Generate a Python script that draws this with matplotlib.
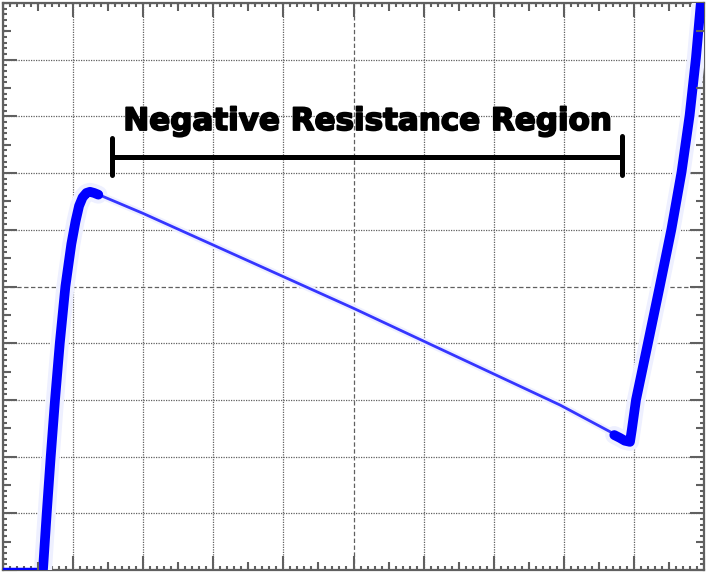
import numpy as np
import matplotlib
matplotlib.use("Agg")
import matplotlib.pyplot as plt
import matplotlib.patheffects as pe

# ---- data (oscilloscope divisions) ----
flat_v = [0.0, 0.56]
flat_i = [0.02, 0.02]

rise_v = [0.57, 0.623, 0.68, 0.742, 0.81, 0.89, 0.975, 1.035, 1.085, 1.135, 1.19, 1.241, 1.30, 1.36]
rise_i = [0.0, 0.99, 1.99, 3.0, 4.0, 5.0, 5.75, 6.15, 6.42, 6.57, 6.65, 6.67, 6.65, 6.62]

negres_v = [1.30, 1.384, 1.997, 4.993, 7.946, 8.688, 8.76]
negres_i = [6.65, 6.61, 6.29, 4.62, 2.91, 2.42, 2.36]

right_v = [8.72, 8.80, 8.87, 8.944, 8.97, 9.03, 9.20, 9.37, 9.535, 9.68, 9.795, 9.885, 9.955, 9.99]
right_i = [2.38, 2.33, 2.28, 2.26, 2.47, 3.0, 4.0, 5.01, 6.01, 7.02, 8.02, 9.03, 10.0, 10.4]

label_text = "Negative Resistance Region"

BLUE = "#0000ff"
HALO = "#eef0ff"
GRAY = "#606060"

fig = plt.figure(figsize=(7.07, 5.73), dpi=100)
W, H = 707, 573
pos = [3 / W, 3 / H, 701 / W, 567 / H]
ax = fig.add_axes(pos)
ax.set_xlim(0, 10)
ax.set_ylim(0, 10)

# grid
ax.set_xticks(np.arange(0, 11, 1))
ax.set_yticks(np.arange(0, 11, 1))
ax.set_xticks(np.arange(0, 10.01, 0.1), minor=True)
ax.set_yticks(np.arange(0, 10.01, 0.1), minor=True)
ax.grid(True, which="major", color=GRAY, linestyle=(0, (1, 1)), linewidth=0.9)
ax.set_axisbelow(True)
for gl in (ax.xaxis.get_gridlines()[5], ax.yaxis.get_gridlines()[5]):
    gl.set_linestyle((0, (3.5, 2)))

ax.tick_params(which="both", direction="in", top=True, right=True,
               labelbottom=False, labelleft=False, color=GRAY, width=1.5)
ax.tick_params(which="major", length=10)
ax.tick_params(which="minor", length=3)
for sp in ax.spines.values():
    sp.set_color(GRAY)
    sp.set_linewidth(1.6)

# mid-division ticks via overlay axes
ax2 = fig.add_axes(pos)
ax2.set_xlim(0, 10)
ax2.set_ylim(0, 10)
ax2.patch.set_visible(False)
for sp in ax2.spines.values():
    sp.set_visible(False)
ax2.set_xticks(np.arange(0.5, 10, 1))
ax2.set_yticks(np.arange(0.5, 10, 1))
ax2.tick_params(direction="in", top=True, right=True, labelbottom=False,
                labelleft=False, color=GRAY, width=1.5, length=5.5)

# curve: halo then core
kw = dict(solid_capstyle="round", solid_joinstyle="round")
ax.plot(rise_v, rise_i, color=HALO, lw=13, zorder=3, **kw)
ax.plot(right_v, right_i, color=HALO, lw=13, zorder=3, **kw)
ax.plot(negres_v, negres_i, color=HALO, lw=5, zorder=3, **kw)
ax.plot(flat_v, flat_i, color=BLUE, lw=2.5, zorder=4, **kw)
ax.plot(negres_v, negres_i, color="#3535ff", lw=2.0, zorder=4, **kw)
ax.plot(rise_v, rise_i, color=BLUE, lw=7, zorder=4, **kw)
ax.plot(right_v, right_i, color=BLUE, lw=7, zorder=4, **kw)

# bracket + label
bk = dict(color="black", lw=3.6, solid_capstyle="round", zorder=5)
ax.plot([1.55, 8.83], [7.284, 7.284], **bk)
ax.plot([1.55, 1.55], [6.97, 7.62], **bk)
ax.plot([8.83, 8.83], [6.97, 7.65], **bk)
ax.text(5.214, 7.76, label_text, ha="center", va="baseline",
        fontsize=22.3, fontweight="bold", family="DejaVu Sans",
        color="black", zorder=6,
        path_effects=[pe.withStroke(linewidth=1.3, foreground="black")])

fig.savefig("out.png", dpi=100)
